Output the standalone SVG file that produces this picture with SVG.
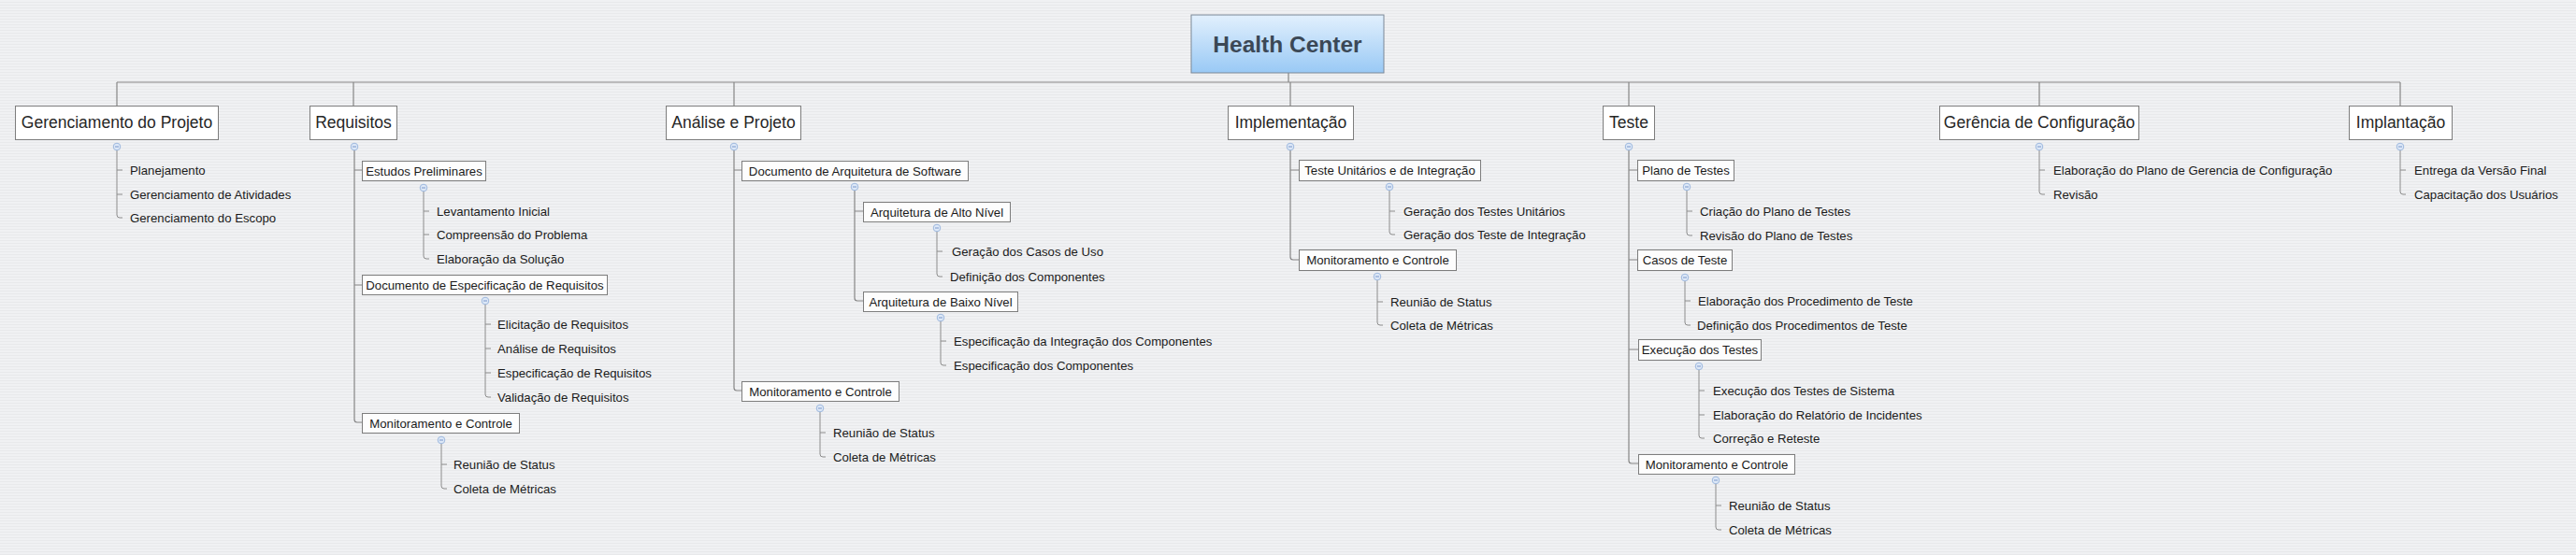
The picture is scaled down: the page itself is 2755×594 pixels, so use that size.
<svg xmlns="http://www.w3.org/2000/svg" xmlns:xlink="http://www.w3.org/1999/xlink" width="2755" height="594" viewBox="0 0 2755 594">
<defs>
<pattern id="bg" width="8" height="3" patternUnits="userSpaceOnUse">
<rect width="8" height="3" fill="#f0f1f3"/>
<rect y="2" width="8" height="1" fill="#e8e9eb"/>
</pattern>
<linearGradient id="rootg" x1="0" y1="0" x2="0" y2="1">
<stop offset="0" stop-color="#e2f0fd"/>
<stop offset="1" stop-color="#99c9f5"/>
</linearGradient>
<symbol id="tg" viewBox="-5 -5 10 10" overflow="visible">
<circle r="3.8" fill="#dde8f7" stroke="#9db8de" stroke-width="1"/>
<path d="M-2,0 H2" stroke="#6f8fc4" stroke-width="0.9"/>
</symbol>
<style>
.t{font-family:"Liberation Sans",Arial,sans-serif;fill:#1a1a1a}
.root{font-size:24.5px;font-weight:bold;fill:#3b4856}
.main{font-size:17.5px;fill:#262626}
.sub{font-size:13.2px}
.leaf{font-size:13.2px}
.box{fill:#ffffff;stroke:#7d7d7d;stroke-width:1}
.sbox{fill:#fdfdfd;stroke:#7d7d7d;stroke-width:1}
.c{fill:none;stroke:#868686;stroke-width:1.2}
.cl{fill:none;stroke:#8c8c8c;stroke-width:1}
</style>
</defs>
<rect width="2755" height="594" fill="url(#bg)"/>

<g id="connectors">
<path class="c" d="M1378,78 V88 M125,88 H2567 M125,88 V113 M378,88 V113 M785,88 V113 M1380,88 V113 M1742,88 V113 M2181,88 V113 M2567,88 V113"/>
<path class="cl" d="M125,161 V230 Q125,233 128,233 H131 M125,182 H131 M125,208 H131"/>
<path class="c" d="M379,161 V449 Q379,452 382,452 H387 M379,182 H387 M379,305 H387"/>
<path class="cl" d="M453,205 V274 Q453,277 456,277 H459 M453,226 H459 M453,251 H459"/>
<path class="cl" d="M519,326 V422 Q519,425 522,425 H525 M519,347 H525 M519,373 H525 M519,399 H525"/>
<path class="cl" d="M472,475 V520 Q472,523 475,523 H478 M472,497 H478"/>
<path class="c" d="M785,161 V415 Q785,418 788,418 H793 M785,182 H793"/>
<path class="c" d="M914,204 V319 Q914,322 917,322 H923 M914,226 H923"/>
<path class="cl" d="M1002,248 V293 Q1002,296 1005,296 H1008 M1002,269 H1008"/>
<path class="cl" d="M1006,344 V388 Q1006,391 1009,391 H1012 M1006,365 H1012"/>
<path class="cl" d="M877,441 V486 Q877,489 880,489 H883 M877,463 H883"/>
<path class="c" d="M1380,161 V275 Q1380,278 1383,278 H1389 M1380,182 H1389"/>
<path class="cl" d="M1486,204 V248 Q1486,251 1489,251 H1492 M1486,226 H1492"/>
<path class="cl" d="M1473,300 V345 Q1473,348 1476,348 H1479 M1473,323 H1479"/>
<path class="c" d="M1742,161 V493 Q1742,496 1745,496 H1752 M1742,182 H1751 M1742,278 H1751 M1742,374 H1752"/>
<path class="cl" d="M1804,204 V249 Q1804,252 1807,252 H1810 M1804,226 H1810"/>
<path class="cl" d="M1802,301 V345 Q1802,348 1805,348 H1808 M1802,322 H1808"/>
<path class="cl" d="M1817,396 V466 Q1817,469 1820,469 H1823 M1817,418 H1823 M1817,444 H1823"/>
<path class="cl" d="M1835,518 V564 Q1835,567 1838,567 H1841 M1835,541 H1841"/>
<path class="cl" d="M2181,161 V205 Q2181,208 2184,208 H2187 M2181,182 H2187"/>
<path class="cl" d="M2567,161 V205 Q2567,208 2570,208 H2573 M2567,182 H2573"/>
</g>

<g id="root">
<rect x="1274" y="16" width="206" height="62" fill="url(#rootg)" stroke="#7a8796" stroke-width="1"/>
<text class="t root" x="1377" y="56" text-anchor="middle">Health Center</text>
</g>

<g id="gerenciamento-projeto">
<rect class="box" x="16.5" y="113.5" width="217" height="36"/>
<text class="t main" x="125" y="137" text-anchor="middle">Gerenciamento do Projeto</text>
<use href="#tg" x="120" y="152" width="10" height="10"/>
</g>
<g id="planejamento"><text class="t leaf" x="139" y="186.5">Planejamento</text></g>
<g id="gerenciamento-atividades"><text class="t leaf" x="139" y="212.5">Gerenciamento de Atividades</text></g>
<g id="gerenciamento-escopo"><text class="t leaf" x="139" y="237.5">Gerenciamento do Escopo</text></g>

<g id="requisitos">
<rect class="box" x="331.5" y="113.5" width="93" height="36"/>
<text class="t main" x="378" y="137" text-anchor="middle">Requisitos</text>
<use href="#tg" x="374" y="152" width="10" height="10"/>
</g>
<g id="estudos-preliminares">
<rect class="sbox" x="387.5" y="172.5" width="132" height="21"/>
<text class="t sub" x="453.5" y="187.5" text-anchor="middle">Estudos Preliminares</text>
<use href="#tg" x="448" y="196" width="10" height="10"/>
</g>
<g id="levantamento-inicial"><text class="t leaf" x="467" y="230.5">Levantamento Inicial</text></g>
<g id="compreensao-problema"><text class="t leaf" x="467" y="255.5">Compreensão do Problema</text></g>
<g id="elaboracao-solucao"><text class="t leaf" x="467" y="281.5">Elaboração da Solução</text></g>
<g id="doc-especificacao-requisitos">
<rect class="sbox" x="387.5" y="294.5" width="262" height="21"/>
<text class="t sub" x="518.5" y="309.5" text-anchor="middle">Documento de Especificação de Requisitos</text>
<use href="#tg" x="514" y="317" width="10" height="10"/>
</g>
<g id="elicitacao-requisitos"><text class="t leaf" x="532" y="351.5">Elicitação de Requisitos</text></g>
<g id="analise-requisitos"><text class="t leaf" x="532" y="377.5">Análise de Requisitos</text></g>
<g id="especificacao-requisitos"><text class="t leaf" x="532" y="403.5">Especificação de Requisitos</text></g>
<g id="validacao-requisitos"><text class="t leaf" x="532" y="429.5">Validação de Requisitos</text></g>
<g id="monitoramento-requisitos">
<rect class="sbox" x="387.5" y="442.5" width="168" height="21"/>
<text class="t sub" x="471.5" y="457.5" text-anchor="middle">Monitoramento e Controle</text>
<use href="#tg" x="467" y="466" width="10" height="10"/>
</g>
<g id="reuniao-status-req"><text class="t leaf" x="485" y="501.5">Reunião de Status</text></g>
<g id="coleta-metricas-req"><text class="t leaf" x="485" y="527.5">Coleta de Métricas</text></g>

<g id="analise-projeto">
<rect class="box" x="712.5" y="113.5" width="144" height="36"/>
<text class="t main" x="784.5" y="137" text-anchor="middle">Análise e Projeto</text>
<use href="#tg" x="780" y="152" width="10" height="10"/>
</g>
<g id="doc-arquitetura-software">
<rect class="sbox" x="793.5" y="172.5" width="242" height="21"/>
<text class="t sub" x="914.5" y="187.5" text-anchor="middle">Documento de Arquitetura de Software</text>
<use href="#tg" x="909" y="195" width="10" height="10"/>
</g>
<g id="arquitetura-alto-nivel">
<rect class="sbox" x="923.5" y="216.5" width="157" height="21"/>
<text class="t sub" x="1002" y="231.5" text-anchor="middle">Arquitetura de Alto Nível</text>
<use href="#tg" x="997" y="239" width="10" height="10"/>
</g>
<g id="geracao-casos-uso"><text class="t leaf" x="1018" y="273.5">Geração dos Casos de Uso</text></g>
<g id="definicao-componentes"><text class="t leaf" x="1016" y="300.5">Definição dos Componentes</text></g>
<g id="arquitetura-baixo-nivel">
<rect class="sbox" x="923.5" y="312.5" width="165" height="21"/>
<text class="t sub" x="1006" y="327.5" text-anchor="middle">Arquitetura de Baixo Nível</text>
<use href="#tg" x="1001" y="335" width="10" height="10"/>
</g>
<g id="especificacao-integracao-componentes"><text class="t leaf" x="1020" y="369.5">Especificação da Integração dos Componentes</text></g>
<g id="especificacao-componentes"><text class="t leaf" x="1020" y="395.5">Especificação dos Componentes</text></g>
<g id="monitoramento-analise">
<rect class="sbox" x="793.5" y="408.5" width="168" height="21"/>
<text class="t sub" x="877.5" y="423.5" text-anchor="middle">Monitoramento e Controle</text>
<use href="#tg" x="872" y="432" width="10" height="10"/>
</g>
<g id="reuniao-status-analise"><text class="t leaf" x="891" y="467.5">Reunião de Status</text></g>
<g id="coleta-metricas-analise"><text class="t leaf" x="891" y="493.5">Coleta de Métricas</text></g>

<g id="implementacao">
<rect class="box" x="1313.5" y="113.5" width="134" height="36"/>
<text class="t main" x="1380.5" y="137" text-anchor="middle">Implementação</text>
<use href="#tg" x="1375" y="152" width="10" height="10"/>
</g>
<g id="teste-unitarios-integracao">
<rect class="sbox" x="1389.5" y="171.5" width="194" height="22"/>
<text class="t sub" x="1486.5" y="187" text-anchor="middle">Teste Unitários e de Integração</text>
<use href="#tg" x="1481" y="195" width="10" height="10"/>
</g>
<g id="geracao-testes-unitarios"><text class="t leaf" x="1501" y="230.5">Geração dos Testes Unitários</text></g>
<g id="geracao-teste-integracao"><text class="t leaf" x="1501" y="255.5">Geração dos Teste de Integração</text></g>
<g id="monitoramento-implementacao">
<rect class="sbox" x="1389.5" y="267.5" width="168" height="22"/>
<text class="t sub" x="1473.5" y="283" text-anchor="middle">Monitoramento e Controle</text>
<use href="#tg" x="1468" y="291" width="10" height="10"/>
</g>
<g id="reuniao-status-impl"><text class="t leaf" x="1487" y="327.5">Reunião de Status</text></g>
<g id="coleta-metricas-impl"><text class="t leaf" x="1487" y="352.5">Coleta de Métricas</text></g>

<g id="teste">
<rect class="box" x="1714.5" y="113.5" width="55" height="36"/>
<text class="t main" x="1742" y="137" text-anchor="middle">Teste</text>
<use href="#tg" x="1737" y="152" width="10" height="10"/>
</g>
<g id="plano-testes">
<rect class="sbox" x="1751.5" y="171.5" width="103" height="22"/>
<text class="t sub" x="1803" y="187" text-anchor="middle">Plano de Testes</text>
<use href="#tg" x="1799" y="195" width="10" height="10"/>
</g>
<g id="criacao-plano-testes"><text class="t leaf" x="1818" y="230.5">Criação do Plano de Testes</text></g>
<g id="revisao-plano-testes"><text class="t leaf" x="1818" y="256.5">Revisão do Plano de Testes</text></g>
<g id="casos-teste">
<rect class="sbox" x="1751.5" y="267.5" width="101" height="22"/>
<text class="t sub" x="1802" y="283" text-anchor="middle">Casos de Teste</text>
<use href="#tg" x="1797" y="292" width="10" height="10"/>
</g>
<g id="elaboracao-procedimento-teste"><text class="t leaf" x="1816" y="326.5">Elaboração dos Procedimento de Teste</text></g>
<g id="definicao-procedimentos-teste"><text class="t leaf" x="1815" y="352.5">Definição dos Procedimentos de Teste</text></g>
<g id="execucao-testes">
<rect class="sbox" x="1752.5" y="363.5" width="131" height="22"/>
<text class="t sub" x="1818" y="379" text-anchor="middle">Execução dos Testes</text>
<use href="#tg" x="1812" y="387" width="10" height="10"/>
</g>
<g id="execucao-testes-sistema"><text class="t leaf" x="1832" y="422.5">Execução dos Testes de Sistema</text></g>
<g id="elaboracao-relatorio-incidentes"><text class="t leaf" x="1832" y="448.5">Elaboração do Relatório de Incidentes</text></g>
<g id="correcao-reteste"><text class="t leaf" x="1832" y="473.5">Correção e Reteste</text></g>
<g id="monitoramento-teste">
<rect class="sbox" x="1752.5" y="486.5" width="167" height="21"/>
<text class="t sub" x="1836" y="501.5" text-anchor="middle">Monitoramento e Controle</text>
<use href="#tg" x="1830" y="509" width="10" height="10"/>
</g>
<g id="reuniao-status-teste"><text class="t leaf" x="1849" y="545.5">Reunião de Status</text></g>
<g id="coleta-metricas-teste"><text class="t leaf" x="1849" y="571.5">Coleta de Métricas</text></g>

<g id="gerencia-configuracao">
<rect class="box" x="2074.5" y="113.5" width="213" height="36"/>
<text class="t main" x="2181" y="137" text-anchor="middle">Gerência de Configuração</text>
<use href="#tg" x="2176" y="152" width="10" height="10"/>
</g>
<g id="elaboracao-plano-gerencia"><text class="t leaf" x="2196" y="186.5">Elaboração do Plano de Gerencia de Configuração</text></g>
<g id="revisao"><text class="t leaf" x="2196" y="212.5">Revisão</text></g>

<g id="implantacao">
<rect class="box" x="2512.5" y="113.5" width="110" height="36"/>
<text class="t main" x="2567.5" y="137" text-anchor="middle">Implantação</text>
<use href="#tg" x="2562" y="152" width="10" height="10"/>
</g>
<g id="entrega-versao-final"><text class="t leaf" x="2582" y="186.5">Entrega da Versão Final</text></g>
<g id="capacitacao-usuarios"><text class="t leaf" x="2582" y="212.5">Capacitação dos Usuários</text></g>
</svg>
